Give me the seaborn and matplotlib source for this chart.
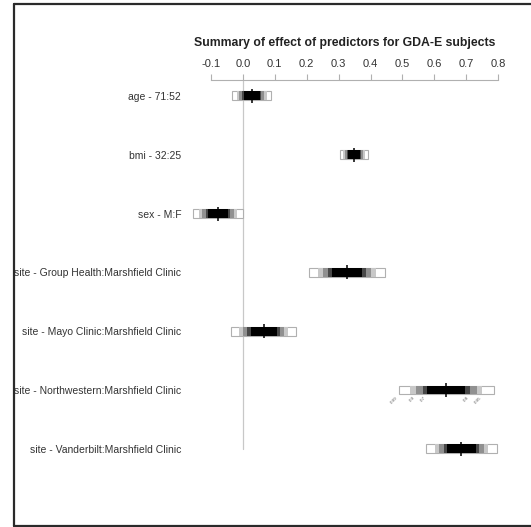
import numpy as np
import pandas as pd
import seaborn as sns
import matplotlib.pyplot as plt
from matplotlib.lines import Line2D

# Effect estimates (difference on linear scale)
labels = ['age - 71:52', 'bmi - 32:25', 'sex - M:F',
          'site - Group Health:Marshfield Clinic',
          'site - Mayo Clinic:Marshfield Clinic',
          'site - Northwestern:Marshfield Clinic',
          'site - Vanderbilt:Marshfield Clinic']
effect = [0.028, 0.348, -0.078, 0.326, 0.065, 0.637, 0.685]
std_err = [0.0236, 0.0171, 0.0300, 0.0459, 0.0395, 0.0578, 0.0426]

# confidence levels, widest first, and their fill shades
conf_levels = [0.99, 0.95, 0.90, 0.80, 0.70]
conf_z = [2.576, 1.960, 1.645, 1.282, 1.036]
shades = ['white', '#c8c8c8', '#909090', '#484848', 'black']
level_text = ['0.99', '0.95', '0.9', '0.8', '0.7']

df = pd.DataFrame({'label': labels, 'effect': effect, 'se': std_err})
df['row'] = np.arange(len(df))

sns.set_style('white')
plt.rcParams['font.family'] = ['Liberation Sans', 'DejaVu Sans']

fig = plt.figure(figsize=(5.31, 5.27), dpi=100)
ax = fig.add_axes([0.3491, 0.04175, 0.6192, 0.8055])

# zero reference line
ax.plot([0, 0], [-0.26, 6.0], color='#c8c8c8', lw=0.9, zorder=0)

bar_h = 0.15
for k, (z, col) in enumerate(zip(conf_z, shades)):
    ax.barh(df['row'], 2 * z * df['se'], left=df['effect'] - z * df['se'],
            height=bar_h, color=col,
            edgecolor='#b0b0b0' if k == 0 else col,
            linewidth=0.8 if k == 0 else 0, zorder=2 + k)

sns.scatterplot(data=df, x='effect', y='row', marker='|', s=110,
                color='black', linewidth=1.1, ax=ax, zorder=10, legend=False)

# level labels under the Northwestern bar
nw = df.iloc[5]
for k, (z, txt) in enumerate(zip(conf_z, level_text)):
    left_side = k % 2 == 0
    xpos = nw['effect'] - z * nw['se'] if left_side else nw['effect'] + z * nw['se']
    ax.text(xpos, nw['row'] + 0.1, txt, fontsize=3.2, rotation=45,
            ha='right', va='top', color='#606060', zorder=11)

ax.set_xlim(-0.18, 0.85)
ax.set_ylim(6.953, -0.26)
ax.set_yticks(df['row'])
ax.set_yticklabels(df['label'], fontsize=7.5, color='#333333')
ax.set_ylabel('')
ax.set_xlabel('')
ax.tick_params(axis='y', length=0, pad=3)

ticks = np.round(np.arange(-0.1, 0.81, 0.1), 1)
ax.xaxis.tick_top()
ax.set_xticks(ticks)
ax.set_xticklabels(['%.1f' % t for t in ticks], fontsize=8, color='#333333')
ax.tick_params(axis='x', direction='out', length=4, width=0.8,
               color='#b0b0b0', pad=4)

for side in ['left', 'right', 'bottom']:
    ax.spines[side].set_visible(False)
ax.spines['top'].set_bounds(-0.1, 0.8)
ax.spines['top'].set_color('#b0b0b0')
ax.spines['top'].set_linewidth(0.8)

fig.text(345 / 531, 1 - 43 / 527, 'Summary of effect of predictors for GDA-E subjects',
         ha='center', va='center', fontsize=8.8, fontweight='bold', color='#222222')

# outer frame
W, H = 531, 527
for xs, ys in [([13.8, 13.8], [3.5, 526]), ([13.8, 531], [3.5, 3.5]),
               ([13.8, 531], [526, 526])]:
    fig.add_artist(Line2D([x / W for x in xs], [1 - y / H for y in ys],
                          color='#2a2a2a', lw=1.6))

fig.savefig('out.png', dpi=100, facecolor='white')
